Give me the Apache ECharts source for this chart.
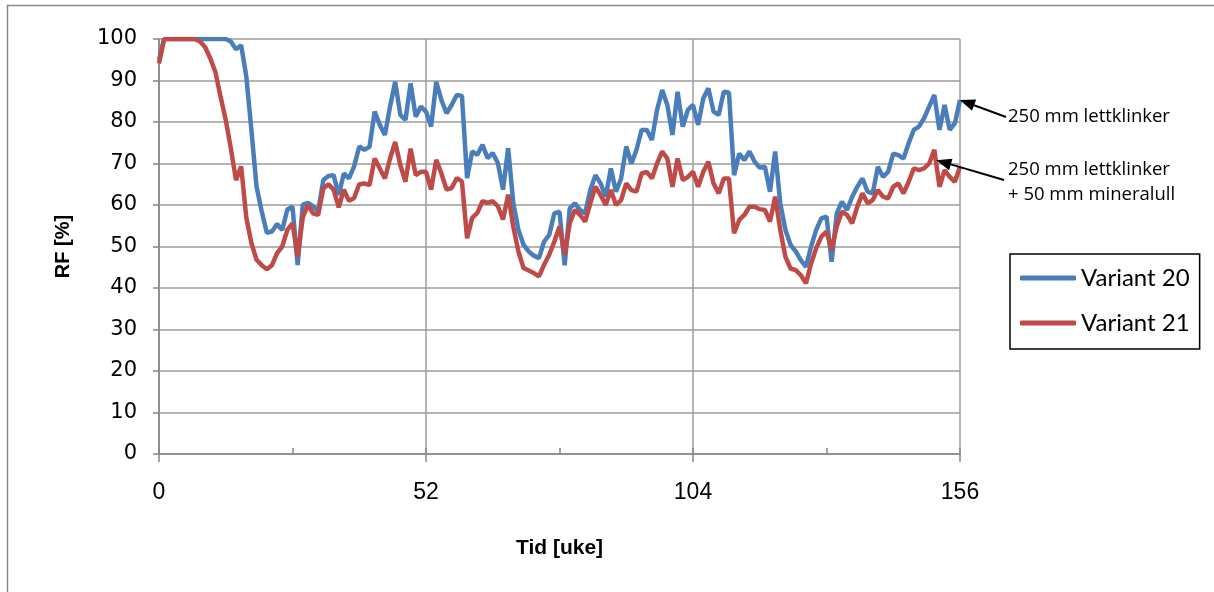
<!DOCTYPE html>
<html>
<head>
<meta charset="utf-8">
<script src="https://cdn.jsdelivr.net/npm/echarts@6/dist/echarts.min.js"></script>
<style>
  html, body { margin: 0; padding: 0; background: #ffffff; }
  #chart { width: 1214px; height: 592px; }
</style>
</head>
<body>
<div id="chart"></div>
<script>
// Relative humidity (RF, %) per week for two wall variants, weeks 0..156
const xTicks = [0, 52, 104, 156];
const yTicks = [0, 10, 20, 30, 40, 50, 60, 70, 80, 90, 100];
const seriesNames = ['Variant 20', 'Variant 21'];

const variant20 = [
  95, 100, 100, 100, 100, 100, 100, 100, 100, 100,
  100, 100, 100, 100, 99.4, 97.5, 98.5, 91, 78, 64.4,
  58.5, 53.3, 53.6, 55.4, 54, 58.9, 59.6, 45.5, 60.1, 60.5,
  59.7, 58.5, 66, 67, 67.2, 62.4, 67.6, 66.4, 69.3, 74.1,
  73.3, 74, 82.5, 79.3, 76.9, 83.7, 89.7, 81.7, 80.5, 89.3,
  81.3, 83.7, 82.5, 78.9, 89.7, 85.3, 82.1, 84.1, 86.5, 86.3,
  66.5, 72.9, 72.1, 74.5, 71.3, 72.5, 70.1, 63.7, 73.7, 60.5,
  54, 50.4, 48.8, 47.8, 47.2, 51.2, 52.8, 58, 58.4, 45.5,
  59.2, 60.4, 58.8, 58, 63.6, 67.2, 65.2, 62, 68.8, 63.2,
  66.4, 74.1, 70, 73.3, 78.1, 78.1, 75.7, 82.9, 87.7, 84.1,
  76.9, 87.3, 78.9, 82.9, 84.1, 79.3, 85.7, 88.1, 82.5, 81.7,
  87.3, 87.1, 67.2, 72.4, 70.8, 72.9, 70.4, 69, 69.2, 63.2,
  72.9, 60.4, 54, 50.4, 48.8, 46.7, 45.1, 50, 54, 56.8,
  57.2, 46.3, 58, 60.8, 58.8, 62, 64.4, 66.4, 63.2, 62.8,
  69.2, 66.8, 68, 72.4, 72, 71.2, 74.9, 78.1, 78.9, 80.9,
  83.7, 86.5, 78.1, 84.1, 78.1, 79.7, 85.3
];

const variant21 = [
  94.1, 100, 100, 100, 100, 100, 100, 100, 99.4, 98,
  95.3, 92, 86, 80.5, 73.6, 66, 69.3, 57, 50.8, 46.8,
  45.5, 44.5, 45.5, 48.4, 50, 54, 55.6, 47.5, 57, 60,
  58, 57.6, 64, 65, 63.7, 59.4, 63.7, 61, 61.7, 65,
  65.2, 64.8, 71.2, 68.8, 66.4, 71.2, 75.2, 69.6, 65.6, 73.6,
  67.2, 68, 68, 63.7, 70.9, 67.6, 63.7, 64.1, 66.5, 65.7,
  52, 56.9, 58.1, 60.9, 60.5, 60.9, 59.7, 56.5, 62.5, 54.8,
  48.8, 44.8, 44.2, 43.6, 42.8, 45.6, 48, 51.2, 54.8, 48,
  55.6, 58.8, 57.6, 56, 60.4, 64.4, 62.4, 60, 63.6, 60,
  61.2, 65.2, 63.6, 63.2, 67.6, 68, 66.4, 70, 72.9, 71.2,
  64.4, 71.2, 66, 66.8, 68, 64.4, 68, 70.4, 65.2, 62.8,
  66.4, 66.4, 53.2, 56.4, 57.6, 59.6, 59.6, 59, 58.8, 56,
  62, 54, 47.5, 44.7, 44.3, 43.1, 41.1, 45.9, 49.6, 52.4,
  53.6, 49.2, 54.8, 58.4, 57.6, 55.6, 59.6, 62.8, 60.4, 61.2,
  63.6, 62, 61.6, 64.4, 65.2, 62.8, 65.6, 68.8, 68.4, 68.8,
  70, 73.3, 64.4, 68.4, 66.8, 65.6, 69.2
];

// Callout texts and the data points they point at
const noteTop = ['250 mm lettklinker'];
const noteBottom = ['250 mm lettklinker', '+ 50 mm mineralull'];
const noteTopTarget = [156, variant20[156]];
const noteBottomTarget = [151.4, 70.8];

const asPairs = arr => arr.map((v, i) => [i, v]);

const axisGray = '#868686';
const gridGray = '#9c9c9c';
const blue = '#4A7EBB';
const red = '#BE4B48';

const chart = echarts.init(document.getElementById('chart'));

chart.setOption({
  animation: false,
  backgroundColor: '#ffffff',
  grid: { left: 159, top: 39, width: 801, height: 415 },
  xAxis: [
    {
      type: 'value', min: xTicks[0], max: xTicks[xTicks.length - 1], interval: 52,
      axisLine: { lineStyle: { color: axisGray, width: 1.5 } },
      axisTick: { length: 8, lineStyle: { color: axisGray, width: 1.5 } },
      axisLabel: { margin: 27, fontFamily: 'Liberation Sans', fontSize: 23, color: '#000' },
      splitLine: { show: true, lineStyle: { color: gridGray, width: 1.5 } },
      name: 'Tid [uke]', nameLocation: 'middle', nameGap: 84,
      nameTextStyle: { fontFamily: 'Liberation Sans', fontWeight: 'bold', fontSize: 21, color: '#000' }
    },
    {
      // half-year minor ticks pointing into the plot
      type: 'value', min: 0, max: 156, interval: 26, position: 'bottom', offset: 0,
      axisLine: { show: false },
      axisTick: { inside: true, length: 6, lineStyle: { color: axisGray, width: 1.5 } },
      axisLabel: { show: false },
      splitLine: { show: false }
    }
  ],
  yAxis: {
    type: 'value', min: yTicks[0], max: yTicks[yTicks.length - 1], interval: 10,
    axisLine: { show: true, lineStyle: { color: axisGray, width: 1.5 } },
    axisTick: { show: true, length: 6, lineStyle: { color: axisGray, width: 1.5 } },
    axisLabel: { margin: 22, fontFamily: 'DejaVu Sans', fontSize: 21, color: '#000' },
    splitLine: { show: true, lineStyle: { color: gridGray, width: 1.5 } },
    name: 'RF [%]', nameLocation: 'middle', nameGap: 86, nameRotate: 90,
    nameTextStyle: { fontFamily: 'Liberation Sans', fontWeight: 'bold', fontSize: 20, color: '#000' }
  },
  legend: {
    orient: 'vertical', left: 1010, top: 254,
    padding: [12, 10, 14, 10], itemGap: 21, itemWidth: 56, itemHeight: 5,
    icon: 'roundRect',
    borderColor: '#000', borderWidth: 1.5,
    textStyle: { fontFamily: 'Lato', fontSize: 24, color: '#000' },
    data: seriesNames
  },
  series: [
    {
      name: seriesNames[0], type: 'line', data: asPairs(variant20),
      symbol: 'none', color: blue, lineStyle: { color: blue, width: 4.5 }
    },
    {
      name: seriesNames[1], type: 'line', data: asPairs(variant21),
      symbol: 'none', color: red, lineStyle: { color: red, width: 4.5 }
    }
  ]
});

// Callout arrows: from the note text to the referenced point on each curve
function arrow(from, to) {
  const dx = to[0] - from[0], dy = to[1] - from[1];
  const len = Math.hypot(dx, dy), ux = dx / len, uy = dy / len;
  const head = 15, half = 6;
  const bx = to[0] - ux * head, by = to[1] - uy * head;
  return [
    { type: 'line', silent: true, z: 20,
      shape: { x1: from[0], y1: from[1], x2: bx, y2: by },
      style: { stroke: '#000', lineWidth: 2 } },
    { type: 'polygon', silent: true, z: 20,
      shape: { points: [to, [bx - uy * half, by + ux * half], [bx + uy * half, by - ux * half]] },
      style: { fill: '#000' } }
  ];
}

const tipTop = chart.convertToPixel({ gridIndex: 0 }, noteTopTarget);
const tipBottom = chart.convertToPixel({ gridIndex: 0 }, noteBottomTarget);
const noteFont = { fontFamily: 'Open Sans', fontSize: 18.5, fill: '#000', lineHeight: 25 };

chart.setOption({
  graphic: [
    { type: 'rect', silent: true, z: -1,
      shape: { x: 7.5, y: 5.5, width: 1220, height: 620 },
      style: { fill: 'none', stroke: '#8a8a8a', lineWidth: 1.5 } },
    { type: 'text', left: 1008, top: 104, silent: true,
      style: Object.assign({ text: noteTop.join('\n') }, noteFont) },
    { type: 'text', left: 1008, top: 157, silent: true,
      style: Object.assign({ text: noteBottom.join('\n') }, noteFont) },
    ...arrow([1006, 117], tipTop),
    ...arrow([1004, 180], tipBottom)
  ]
});
</script>
</body>
</html>
